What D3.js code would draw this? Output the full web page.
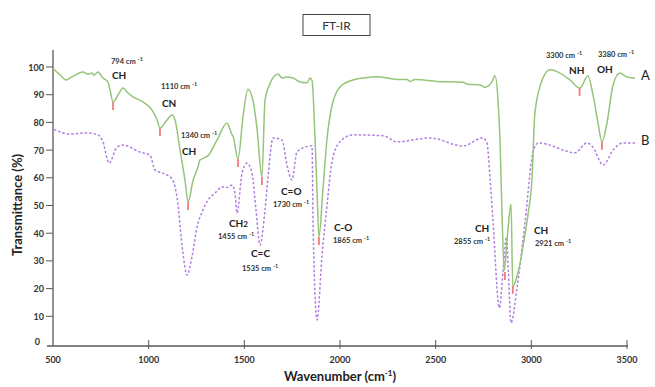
<!DOCTYPE html>
<html>
<head>
<meta charset="utf-8">
<script src="https://cdn.jsdelivr.net/npm/d3@7"></script>
<style>
  body { margin: 0; background: #fff; }
  svg { display: block; font-family: Lato, "Open Sans", sans-serif; }
</style>
</head>
<body>
<svg id="chart" width="655" height="387"></svg>
<script>
// ---- data ----
const waveA = [500, 510, 540, 568, 600, 657, 683, 704, 714, 735, 761, 787, 798, 814, 840, 866, 892, 918, 970, 1017, 1044, 1059, 1096, 1122, 1138, 1164, 1190, 1206, 1232, 1258, 1268, 1284, 1310, 1357, 1409, 1436, 1441, 1467, 1493, 1519, 1545, 1566, 1592, 1608, 1634, 1676, 1697, 1723, 1754, 1791, 1828, 1843, 1854, 1869, 1880, 1890, 1911, 1932, 1958, 2000, 2068, 2157, 2193, 2298, 2350, 2366, 2392, 2507, 2643, 2664, 2732, 2758, 2794, 2810, 2826, 2836, 2848, 2858, 2876, 2894, 2903, 2924, 2941, 2956, 2983, 3003, 3019, 3061, 3098, 3150, 3202, 3254, 3296, 3322, 3348, 3369, 3396, 3427, 3463, 3500, 3542];
const transA = [99.6, 98.8, 97, 95.3, 96.5, 98.2, 97.4, 97.8, 97.0, 98.2, 96, 94.6, 91.7, 87.4, 89.9, 92.4, 90.6, 89.2, 87.4, 84.5, 80.9, 78, 80.9, 82.7, 80.9, 70, 59, 51.3, 59, 64, 66.4, 67, 68, 73.6, 79.8, 75.5, 75, 66.8, 82, 92, 88, 78, 60.3, 88, 94, 97.5, 96, 96.4, 96, 94.6, 94.3, 96, 95, 75, 55, 38.6, 56, 74, 86, 92.8, 95.3, 96.3, 96.5, 95.5, 95.5, 94.8, 95.5, 94.8, 94.5, 93.8, 93.5, 92.7, 94.6, 96.8, 88, 74, 44, 26.5, 40, 50.5, 20.7, 24.3, 29, 35, 47, 59, 83.7, 96, 99, 97.8, 95.3, 92.4, 96.8, 90, 80, 73, 80, 93.5, 97.8, 96.4, 96];

const waveB = [505, 589, 678, 735, 761, 793, 834, 866, 955, 1007, 1033, 1059, 1096, 1127, 1148, 1179, 1200, 1226, 1253, 1284, 1310, 1347, 1383, 1415, 1436, 1451, 1462, 1488, 1514, 1540, 1561, 1582, 1608, 1624, 1650, 1697, 1723, 1749, 1775, 1807, 1854, 1859, 1880, 1906, 1932, 1958, 2000, 2068, 2225, 2298, 2470, 2643, 2747, 2768, 2784, 2800, 2833, 2852, 2870, 2880, 2894, 2925, 2967, 3009, 3035, 3098, 3166, 3228, 3291, 3322, 3375, 3427, 3479, 3542];
const transB = [77.5, 75.8, 76.2, 75.5, 73, 65.3, 71, 71.8, 69.3, 68.2, 62.8, 62, 61, 59, 53, 32.9, 24.9, 31.4, 42.2, 48.4, 52, 54.5, 56.7, 56.5, 57.4, 54.5, 47.3, 61.7, 65.3, 61.7, 48.4, 35.7, 48.4, 60.3, 74.4, 73.6, 64.6, 59.2, 69.3, 70.8, 71.5, 44, 8.7, 32, 50, 65.7, 73, 75.5, 75.2, 73, 74.4, 71.5, 74.4, 72.6, 60, 44, 13, 26, 38.6, 26, 7.6, 20.2, 44, 69.3, 72.6, 71.8, 70, 69, 72.6, 71, 64.6, 70, 72.6, 72.6];

// band assignments (marker sits at the dip of curve A)
const bandNames = ['CH', 'CN', 'CH', 'CH2', 'C=C', 'C=O', 'C-O', 'CH', 'CH', 'NH', 'OH'];
const bandLabels = ['794', '1110', '1340', '1455', '1535', '1730', '1865', '2855', '2921', '3300', '3380'];
const markerWave = [814, 1059, 1206, 1467, 1592, null, 1890, 2862, 2903, 3252, 3369];
const markerTrans = [87.4, 78, 51.3, 66.8, 60.3, null, 38.6, 26, 21, 92.4, 73];

const xTicks = [500, 1000, 1500, 2000, 2500, 3000, 3500];
const yTicks = [0, 10, 20, 30, 40, 50, 60, 70, 80, 90, 100];
const seriesNames = ['A', 'B'];

// ---- layout ----
const svg = d3.select('#chart');
const x = d3.scaleLinear().domain([500, 3500]).range([53, 627]);
const y = d3.scaleLinear().domain([0, 100]).range([344, 67]);
const axisColor = '#5a5a5a';
const green = '#96c47a', purple = '#b07ee0', red = '#f47a7a';

// title box
svg.append('rect').attr('x', 303).attr('y', 14.5).attr('width', 67).attr('height', 21)
  .attr('fill', '#fff').attr('stroke', '#444').attr('stroke-width', 1);
svg.append('text').attr('x', 336.5).attr('y', 30).attr('text-anchor', 'middle')
  .attr('font-size', 12).attr('fill', '#333').text('FT-IR');

// axes
svg.append('line').attr('x1', 53).attr('x2', 53).attr('y1', 50).attr('y2', 346)
  .attr('stroke', axisColor).attr('stroke-width', 1.3);
svg.append('line').attr('x1', 47).attr('x2', 628).attr('y1', 346).attr('y2', 346)
  .attr('stroke', axisColor).attr('stroke-width', 1.3);

const yg = svg.append('g');
yTicks.filter(d => d > 0).forEach(d => {
  yg.append('line').attr('x1', 46).attr('x2', 53).attr('y1', y(d)).attr('y2', y(d))
    .attr('stroke', axisColor).attr('stroke-width', 1);
});
yTicks.forEach(d => {
  yg.append('text').attr('x', d === 0 ? 40 : 44).attr('y', d === 0 ? y(d) + 1 : y(d) + 3.5)
    .attr('text-anchor', 'end').attr('font-size', 9).attr('font-weight', 700)
    .attr('fill', '#333').text(d);
});

const xg = svg.append('g');
xTicks.forEach(d => {
  if (d > 500) xg.append('line').attr('x1', x(d)).attr('x2', x(d)).attr('y1', 340).attr('y2', 349)
    .attr('stroke', axisColor).attr('stroke-width', 1);
  xg.append('text').attr('x', x(d)).attr('y', 363).attr('text-anchor', 'middle')
    .attr('font-size', 9).attr('font-weight', 700).attr('fill', '#333').text(d);
});

// axis titles
svg.append('text').attr('transform', 'translate(22,205) rotate(-90)')
  .attr('text-anchor', 'middle').attr('font-size', 13).attr('font-weight', 700)
  .attr('fill', '#222').text('Transmittance (%)');
const xt = svg.append('text').attr('x', 340).attr('y', 381).attr('text-anchor', 'middle')
  .attr('font-size', 13).attr('font-weight', 700).attr('fill', '#222');
xt.append('tspan').text('Wavenumber (cm');
xt.append('tspan').attr('font-size', 8).attr('dy', -5).text('-1');
xt.append('tspan').attr('dy', 5).text(')');

// spectra
const line = d3.line().x(d => x(d[0])).y(d => y(d[1])).curve(d3.curveMonotoneX);
svg.append('path').datum(d3.zip(waveB, transB)).attr('d', line)
  .attr('fill', 'none').attr('stroke', purple).attr('stroke-width', 1.5)
  .attr('stroke-dasharray', '2.5,2');
svg.append('path').datum(d3.zip(waveA, transA)).attr('d', line)
  .attr('fill', 'none').attr('stroke', green).attr('stroke-width', 1.5);

// red band markers
markerWave.forEach((w, i) => {
  if (w == null) return;
  svg.append('line').attr('x1', x(w)).attr('x2', x(w))
    .attr('y1', y(markerTrans[i])).attr('y2', y(markerTrans[i]) + 8)
    .attr('stroke', red).attr('stroke-width', 1.8);
});

// band annotations (pixel layout of name and wavenumber text)
const annotLayout = [
  [112, 79, 111, 64], [162, 107, 161, 89], [182, 155, 181, 138],
  [229, 227, 218, 239], [251, 257, 242, 271], [281, 195, 273, 207],
  [334, 231, 333, 243], [475, 232, 454, 244], [534, 234, 535, 246],
  [569, 74, 546, 58], [597, 73, 598, 57]
];
bandNames.forEach((n, i) => {
  const [nx, ny, lx, ly] = annotLayout[i];
  const t = svg.append('text').attr('x', nx).attr('y', ny).attr('font-size', 10)
    .attr('font-weight', 700).attr('fill', '#222');
  if (n === 'CH2') {
    t.append('tspan').text('CH');
    t.append('tspan').attr('font-size', 8).text('2');
  } else t.text(n);
  const l = svg.append('text').attr('x', lx).attr('y', ly).attr('font-size', 7.5)
    .attr('font-weight', 700).attr('fill', '#333');
  l.append('tspan').text(bandLabels[i] + ' cm ');
  l.append('tspan').attr('font-size', 5.5).attr('dy', -3).text('-1');
});

// series names
const seriesEnd = [transA[transA.length - 1], transB[transB.length - 1]];
seriesNames.forEach((s, i) => {
  svg.append('text').attr('x', 641).attr('y', y(seriesEnd[i]) + 2)
    .attr('font-size', 13).attr('fill', '#222').text(s);
});
</script>
</body>
</html>
